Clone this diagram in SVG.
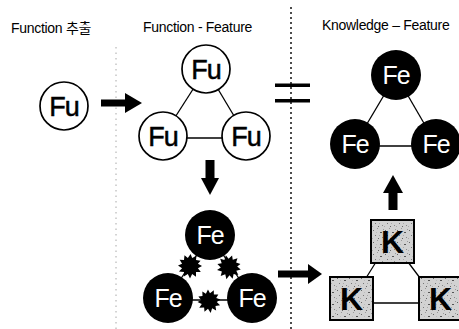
<svg xmlns="http://www.w3.org/2000/svg" width="459" height="329" viewBox="0 0 459 329">
  <style>
    .title { font-family: "Liberation Sans", Arial, "Noto Sans CJK KR", sans-serif; font-size: 14px; letter-spacing: -0.3px; fill: #000; }
    .fu { fill: #fff; stroke: #000; stroke-width: 1.7; }
    .fu-t { font-family: "Liberation Sans", Arial, sans-serif; font-size: 27px; letter-spacing: -1px; fill: #000; stroke: #000; stroke-width: 0.5; text-anchor: middle; }
    .fe { fill: #000; }
    .fe-t { font-family: "Liberation Sans", Arial, sans-serif; font-size: 25px; letter-spacing: -1px; fill: #fff; text-anchor: middle; }
    .kbox { fill: url(#speckle); stroke: #000; stroke-width: 2; }
    .k-t { font-family: "Liberation Sans", Arial, sans-serif; font-size: 32px; font-weight: bold; fill: #000; text-anchor: middle; }
    .link { stroke: #000; stroke-width: 1.3; fill: none; }
    .arrow { fill: #000; }
  </style>
  <defs>
    <pattern id="speckle" width="12" height="12" patternUnits="userSpaceOnUse">
      <rect width="12" height="12" fill="#d2d2d2"/>
      <rect x="1" y="2" width="1" height="1" fill="#666"/>
      <rect x="5" y="0" width="1" height="1" fill="#999"/>
      <rect x="8" y="4" width="2" height="1" fill="#555"/>
      <rect x="3" y="7" width="1" height="1" fill="#777"/>
      <rect x="10" y="9" width="1" height="1" fill="#888"/>
      <rect x="6" y="10" width="1" height="1" fill="#666"/>
      <rect x="0" y="10" width="1" height="1" fill="#aaa"/>
      <rect x="7" y="7" width="1" height="1" fill="#aaa"/>
      <rect x="11" y="1" width="1" height="1" fill="#999"/>
      <rect x="4" y="4" width="1" height="1" fill="#bbb"/>
    </pattern>
    <!-- spiky burst marking a conflict between features -->
    <polygon id="splat" fill="#000" points="10,0 6.6,1.8 9,5 5,5 5,9 1.8,6.6 0,10.5 -1.8,6.6 -5.2,8.8 -5,5 -9.2,4.6 -6.6,1.8 -10,-0.5 -6.6,-1.8 -8.6,-5.2 -5,-5 -4.6,-9 -1.8,-6.6 0.5,-10 1.8,-6.6 5.4,-8.6 5,-5 8.8,-4.4 6.6,-1.8"/>
  </defs>

  <rect width="459" height="329" fill="#fff"/>

  <!-- column headings -->
  <g id="headings">
    <text class="title" x="11" y="33">Function 추출</text>
    <text class="title" x="143" y="31.5">Function -  Feature</text>
    <text class="title" x="322" y="29.5">Knowledge – Feature</text>
  </g>

  <!-- column separators -->
  <g id="separators">
    <line x1="116" y1="47" x2="116" y2="329" stroke="#a8a8a8" stroke-width="1" stroke-dasharray="1.5 4"/>
    <line x1="291" y1="7" x2="291" y2="329" stroke="#000" stroke-width="1.4" stroke-dasharray="2 3"/>
    <rect x="275" y="83.5" width="35" height="3.5" fill="#000"/>
    <rect x="275" y="99" width="35" height="3.5" fill="#000"/>
  </g>

  <!-- connectors -->
  <g id="connectors">
    <!-- Function-Feature triangle -->
    <line class="link" x1="206" y1="69" x2="163" y2="136"/>
    <line class="link" x1="206" y1="69" x2="246" y2="136"/>
    <line class="link" x1="163" y1="138" x2="246" y2="138"/>
    <!-- Feature triangle with conflicts -->
    <line class="link" x1="210" y1="235" x2="168" y2="298"/>
    <line class="link" x1="210" y1="235" x2="252" y2="298"/>
    <line class="link" x1="168" y1="300" x2="252" y2="300"/>
    <!-- Knowledge-Feature triangle -->
    <line class="link" x1="396" y1="75" x2="355" y2="144"/>
    <line class="link" x1="396" y1="75" x2="436" y2="144"/>
    <line class="link" x1="355" y1="146" x2="436" y2="146"/>
    <!-- Knowledge triangle -->
    <line class="link" x1="376" y1="262" x2="366" y2="278"/>
    <line class="link" x1="408" y1="262" x2="420" y2="278"/>
    <line class="link" x1="372" y1="303" x2="420" y2="303"/>
    <!-- block arrows -->
    <rect class="arrow" x="101" y="99.5" width="25" height="7"/>
    <polygon class="arrow" points="125,93 142,103 125,113"/>
    <rect class="arrow" x="205.5" y="160" width="9" height="19"/>
    <polygon class="arrow" points="201,178 219,178 210,195"/>
    <rect class="arrow" x="278" y="270.5" width="31" height="7"/>
    <polygon class="arrow" points="308,264 322,274 308,284"/>
    <rect class="arrow" x="388.5" y="192" width="9" height="18"/>
    <polygon class="arrow" points="383,193 393,175 403,193"/>
    <!-- conflict bursts -->
    <use href="#splat" transform="translate(190 266) scale(1.2)"/>
    <use href="#splat" transform="translate(229 267) scale(1.2) rotate(12)"/>
    <use href="#splat" transform="translate(209 301) scale(1.15) rotate(-8)"/>
  </g>

  <!-- single function -->
  <g id="fu-single">
    <circle class="fu" cx="64" cy="106" r="24"/>
    <text class="fu-t" x="64" y="116">Fu</text>
  </g>

  <!-- function triangle -->
  <g id="fu-top">
    <circle class="fu" cx="206" cy="69" r="24"/>
    <text class="fu-t" x="206" y="79">Fu</text>
  </g>
  <g id="fu-left">
    <circle class="fu" cx="163" cy="136" r="24"/>
    <text class="fu-t" x="163" y="146">Fu</text>
  </g>
  <g id="fu-right">
    <circle class="fu" cx="246" cy="136" r="24"/>
    <text class="fu-t" x="246" y="146">Fu</text>
  </g>

  <!-- feature triangle with conflicts -->
  <g id="fe-mid-top">
    <circle class="fe" cx="210" cy="235" r="25"/>
    <text class="fe-t" x="210" y="244">Fe</text>
  </g>
  <g id="fe-mid-left">
    <circle class="fe" cx="168" cy="298" r="25"/>
    <text class="fe-t" x="168" y="307">Fe</text>
  </g>
  <g id="fe-mid-right">
    <circle class="fe" cx="252" cy="298" r="25"/>
    <text class="fe-t" x="252" y="307">Fe</text>
  </g>

  <!-- knowledge-feature triangle -->
  <g id="fe-top">
    <circle class="fe" cx="396" cy="75" r="25"/>
    <text class="fe-t" x="396" y="84">Fe</text>
  </g>
  <g id="fe-left">
    <circle class="fe" cx="355" cy="144" r="25"/>
    <text class="fe-t" x="355" y="153">Fe</text>
  </g>
  <g id="fe-right">
    <circle class="fe" cx="436" cy="144" r="25"/>
    <text class="fe-t" x="436" y="153">Fe</text>
  </g>

  <!-- knowledge triangle -->
  <g id="k-top">
    <rect class="kbox" x="371" y="220" width="43" height="43"/>
    <text class="k-t" x="392.5" y="253">K</text>
  </g>
  <g id="k-left">
    <rect class="kbox" x="330" y="277" width="43" height="43"/>
    <text class="k-t" x="351.5" y="310">K</text>
  </g>
  <g id="k-right">
    <rect class="kbox" x="419" y="277" width="43" height="43"/>
    <text class="k-t" x="440.5" y="310">K</text>
  </g>
</svg>
